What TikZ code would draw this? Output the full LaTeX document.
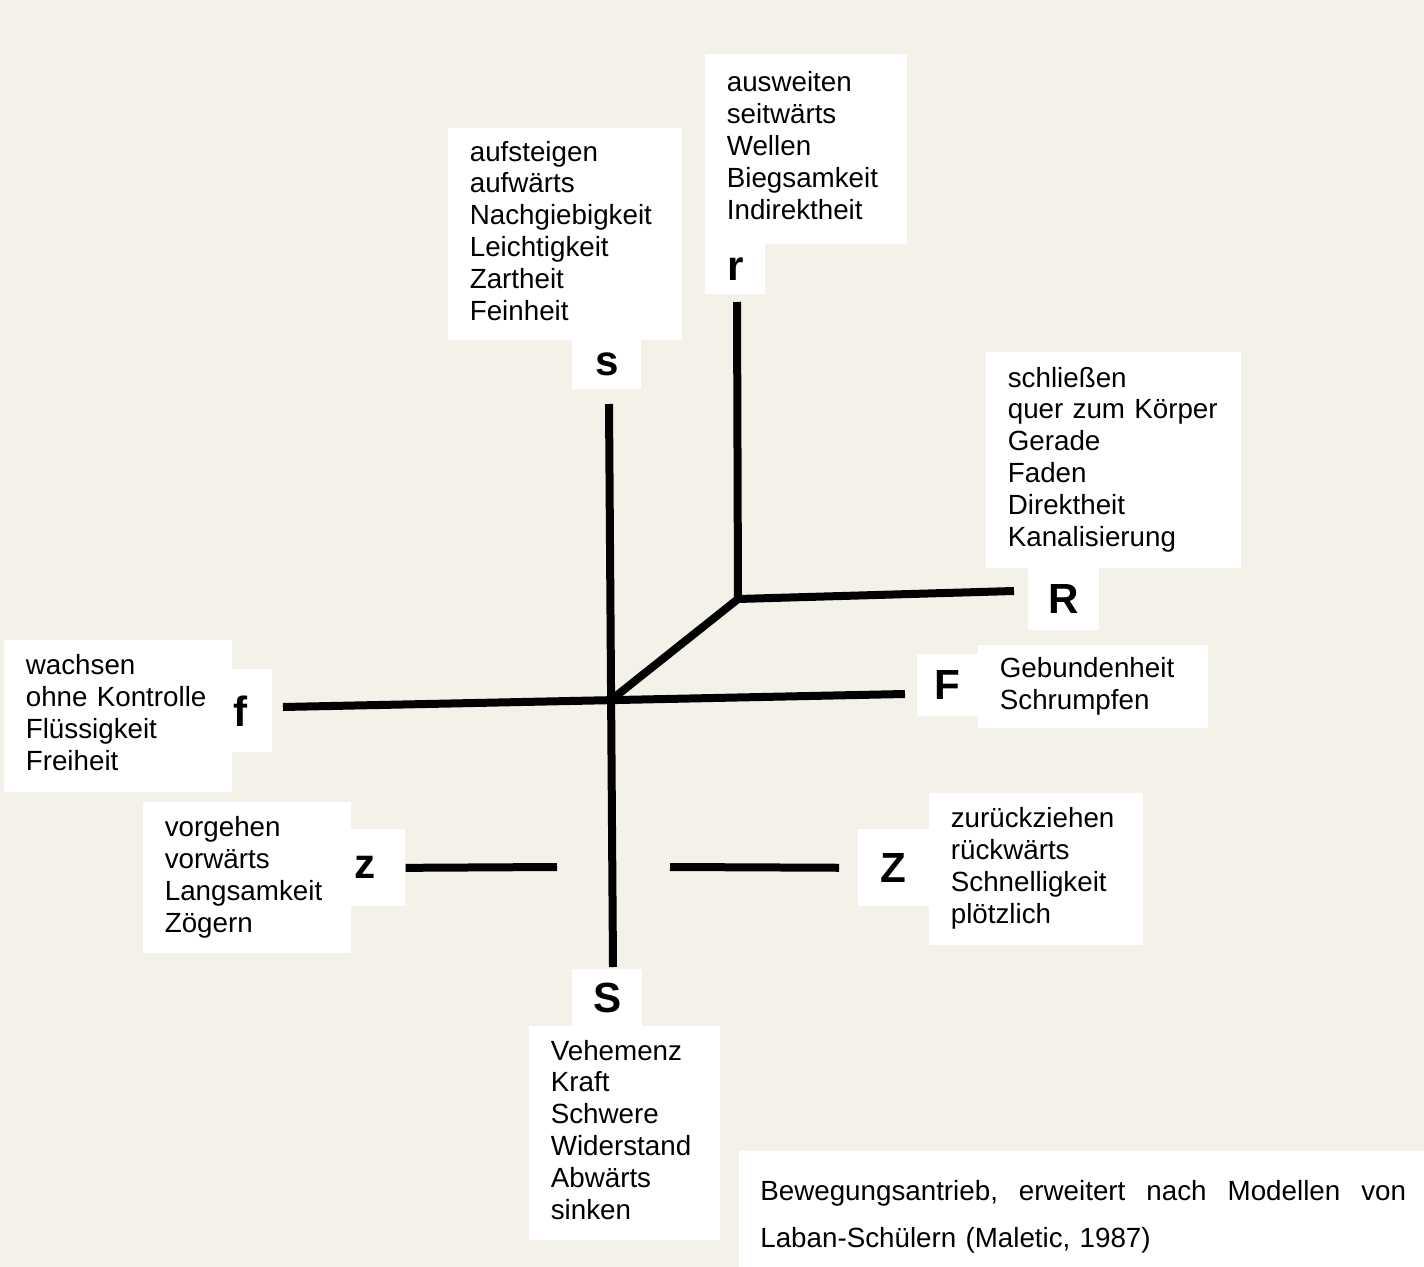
\documentclass[tikz,border=0pt]{standalone}
\usepackage{fontspec}
\setmainfont{Liberation Sans}
\usepackage{tikz}
\usetikzlibrary{positioning,calc}
\definecolor{paper}{RGB}{244,241,233}
\tikzset{
  words/.style={rectangle,fill=white,anchor=north west,align=left,
                inner xsep=0.43cm,inner ysep=0pt,
                font=\fontsize{15.8pt}{18.14pt}\selectfont},
  letter/.style={rectangle,fill=white,anchor=north west,inner sep=0pt,
                 font=\fontsize{24pt}{28pt}\selectfont\bfseries},
  axis/.style={line width=0.16cm},
}

\begin{document}
\begin{tikzpicture}[x=0.02cm,y=-0.02cm]
  \useasboundingbox (0,0) rectangle (1424,1267);
  \fill[paper] (0,0) rectangle (1424,1267);

  \node[words,text width=3.82cm,minimum height=4.24cm] (sw) at (448,128)
    {\strut aufsteigen\\aufwärts\\Nachgiebigkeit\\Leichtigkeit\\Zartheit\\Feinheit\strut};
  \node[letter,minimum width=1.38cm,minimum height=0.98cm] (s) at (572,340) {s};

  \node[words,text width=3.18cm,minimum height=3.80cm] (rw) at (705,54)
    {\strut ausweiten\\seitwärts\\Wellen\\Biegsamkeit\\Indirektheit\strut};
  \node[letter,minimum width=1.20cm,minimum height=1.00cm] (r) at (705,244) {r};

  \node[words,text width=4.24cm,minimum height=4.32cm] (Rw) at (986,352)
    {\strut schließen\\quer zum Körper\\Gerade\\Faden\\Direktheit\\Kanalisierung\strut};
  \node[letter,minimum width=1.42cm,minimum height=1.24cm] (R) at (1028,568) {R};

  \node[letter,minimum width=1.22cm,minimum height=1.24cm] (F) at (917,654) {F};
  \node[words,text width=3.74cm,minimum height=1.66cm] (Fw) at (978,645)
    {\strut Gebundenheit\\Schrumpfen\strut};

  \node[words,text width=3.70cm,minimum height=3.04cm] (fw) at (4,640)
    {\strut wachsen\\ohne Kontrolle\\Flüssigkeit\\Freiheit\strut};
  \node[letter,align=left,inner xsep=0.08cm,text width=0.70cm,
        minimum height=1.66cm] (f) at (229,669) {f};

  \node[words,text width=3.30cm,minimum height=3.02cm] (zw) at (143,802)
    {\strut vorgehen\\vorwärts\\Langsamkeit\\Zögern\strut};
  \node[letter,align=left,inner xsep=0.12cm,text width=0.90cm,
        minimum height=1.54cm] (z) at (348,829) {z};

  \node[letter,minimum width=1.42cm,minimum height=1.54cm] (Z) at (858,829) {Z};
  \node[words,text width=3.42cm,minimum height=3.04cm] (Zw) at (929,793)
    {\strut zurückziehen\\rückwärts\\Schnelligkeit\\plötzlich\strut};

  \node[letter,minimum width=1.40cm,minimum height=1.14cm] (S) at (572,969) {S};
  \node[words,text width=2.96cm,minimum height=4.28cm] (Sw) at (529,1026)
    {\strut Vehemenz\\Kraft\\Schwere\\Widerstand\\Abwärts\\sinken\strut};

  \node[words,inner xsep=0.42cm,text width=12.92cm,minimum height=2.54cm,
        font=\fontsize{15.8pt}{26.6pt}\selectfont] (cap) at (739,1151)
    {\strut\hbox to 12.92cm{Bewegungsantrieb,\hfill erweitert\hfill nach\hfill
     Modellen\hfill von}\\
     Laban-Schülern (Maletic, 1987)\strut};

  \coordinate (c) at (611,700);
  \coordinate (k) at (738,599);
  \coordinate (sEnd) at (609,404);
  \coordinate (SEnd) at (613,967);
  \coordinate (fEnd) at (283,707);
  \coordinate (FEnd) at (905,694);
  \coordinate (rEnd) at (737,302);
  \coordinate (REnd) at (1014,591);
  \coordinate (zIn) at (557,867);
  \coordinate (ZIn) at (670,867);

  \draw[axis] (sEnd) -- (SEnd);
  \draw[axis] (fEnd) -- (FEnd);
  \draw[axis] (rEnd) -- (k) -- (REnd);
  \draw[axis] (c) -- (k);
  \draw[axis] (z.east) -- (zIn);
  \draw[axis,shorten >=0.38cm] (ZIn) -- (Z.west);
\end{tikzpicture}
\end{document}
